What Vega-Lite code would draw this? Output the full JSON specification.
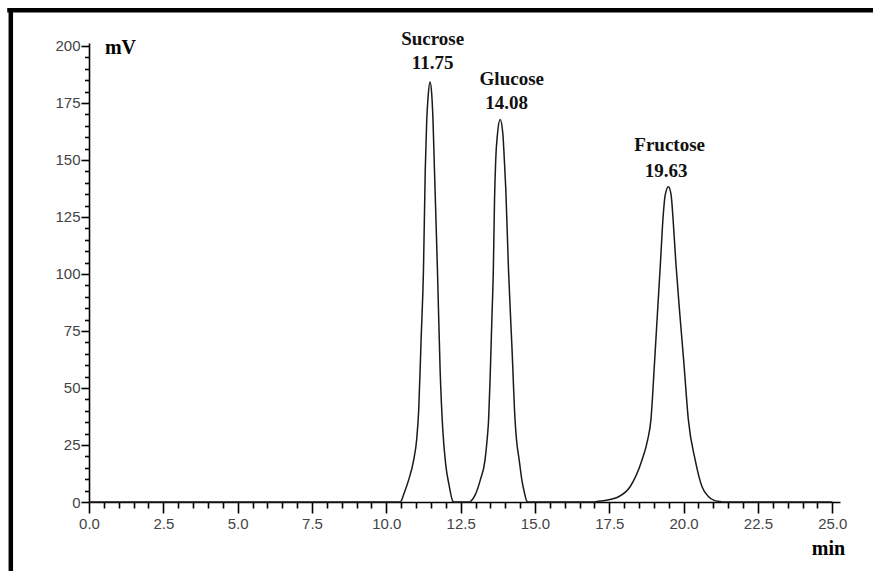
{
  "$schema": "https://vega.github.io/schema/vega-lite/v6.json",
  "width": 751,
  "height": 459,
  "autosize": "none",
  "padding": {"left": 89, "top": 43, "right": 33, "bottom": 69},
  "background": "white",
  "config": {"view": {"stroke": null}},
  "datasets": {
    "trace": [
      {"t": 0, "mv": 0}, {"t": 10.4, "mv": 0},
      {"t": 10.49, "mv": 0.3}, {"t": 10.6, "mv": 3.9}, {"t": 10.75, "mv": 9.6}, {"t": 10.92, "mv": 18.4},
      {"t": 11.02, "mv": 27.2}, {"t": 11.09, "mv": 40.4}, {"t": 11.17, "mv": 71.1},
      {"t": 11.25, "mv": 101.8}, {"t": 11.31, "mv": 145.6}, {"t": 11.36, "mv": 167.5}, {"t": 11.41, "mv": 178.5},
      {"t": 11.47, "mv": 184.2}, {"t": 11.53, "mv": 178.5}, {"t": 11.57, "mv": 167.5}, {"t": 11.62, "mv": 145.6},
      {"t": 11.72, "mv": 101.8}, {"t": 11.81, "mv": 57.9}, {"t": 11.9, "mv": 31.6}, {"t": 12.0, "mv": 16.2},
      {"t": 12.11, "mv": 7.5}, {"t": 12.24, "mv": 0.3}, {"t": 12.3, "mv": 0}, {"t": 12.8, "mv": 0},
      {"t": 12.84, "mv": 0.3}, {"t": 12.99, "mv": 3.1}, {"t": 13.16, "mv": 9.6}, {"t": 13.32, "mv": 18.4},
      {"t": 13.39, "mv": 27.2}, {"t": 13.44, "mv": 36}, {"t": 13.49, "mv": 53.5}, {"t": 13.55, "mv": 79.8}, {"t": 13.6, "mv": 101.8},
      {"t": 13.64, "mv": 132.5}, {"t": 13.68, "mv": 150}, {"t": 13.74, "mv": 161.5}, {"t": 13.83, "mv": 167.8},
      {"t": 13.92, "mv": 161.5}, {"t": 13.97, "mv": 150}, {"t": 14.02, "mv": 136.8}, {"t": 14.11, "mv": 101.8},
      {"t": 14.23, "mv": 66.7}, {"t": 14.33, "mv": 36}, {"t": 14.38, "mv": 27.2}, {"t": 14.47, "mv": 18.4},
      {"t": 14.56, "mv": 9.6}, {"t": 14.64, "mv": 4.4}, {"t": 14.73, "mv": 0.3}, {"t": 14.8, "mv": 0}, {"t": 17.0, "mv": 0},
      {"t": 17.08, "mv": 0.2}, {"t": 17.36, "mv": 0.7}, {"t": 17.81, "mv": 2.3}, {"t": 18.2, "mv": 6.7},
      {"t": 18.6, "mv": 18.4}, {"t": 18.79, "mv": 27.2}, {"t": 18.9, "mv": 36}, {"t": 19.02, "mv": 60.8},
      {"t": 19.12, "mv": 82.8}, {"t": 19.22, "mv": 104.7}, {"t": 19.31, "mv": 125.1}, {"t": 19.38, "mv": 134.6},
      {"t": 19.49, "mv": 138.3}, {"t": 19.58, "mv": 134.6}, {"t": 19.64, "mv": 125.1}, {"t": 19.74, "mv": 104.7},
      {"t": 19.87, "mv": 82.8}, {"t": 20.01, "mv": 60.8}, {"t": 20.16, "mv": 36}, {"t": 20.39, "mv": 18.4},
      {"t": 20.62, "mv": 6.7}, {"t": 20.84, "mv": 2.3}, {"t": 21.03, "mv": 0.7}, {"t": 21.23, "mv": 0.2},
      {"t": 21.3, "mv": 0}, {"t": 25.0, "mv": 0}
    ],
    "labels": [
      {"label": "Sucrose", "t": 11.56, "mv": 202.9},
      {"label": "11.75", "t": 11.56, "mv": 192.4},
      {"label": "Glucose", "t": 14.22, "mv": 185.4},
      {"label": "14.08", "t": 14.05, "mv": 175.1},
      {"label": "Fructose", "t": 19.53, "mv": 156.6},
      {"label": "19.63", "t": 19.41, "mv": 145.3}
    ]
  },
  "resolve": {"axis": {"x": "independent", "y": "independent"}},
  "layer": [
    {
      "data": {"name": "trace"},
      "mark": {"type": "line", "color": "#1a1a1a", "strokeWidth": 1.5, "interpolate": "monotone"},
      "encoding": {
        "x": {
          "field": "t", "type": "quantitative",
          "scale": {"domain": [0, 25.26], "nice": false, "zero": false},
          "axis": {
            "orient": "bottom",
            "values": [0, 2.5, 5, 7.5, 10, 12.5, 15, 17.5, 20, 22.5, 25],
            "format": ".1f", "grid": false,
            "domainColor": "#000", "domainWidth": 1.6,
            "tickColor": "#000", "tickWidth": 1.6, "tickSize": 11,
            "labelFont": "Liberation Sans", "labelFontSize": 15, "labelColor": "#444", "labelPadding": 3,
            "labelFlush": false, "labelOverlap": false,
            "title": "min", "titleFont": "Liberation Serif", "titleFontWeight": "bold", "titleFontSize": 20,
            "titleColor": "#000", "titleX": 739, "titleY": 46, "titleAlign": "center", "titleBaseline": "middle"
          }
        },
        "y": {
          "field": "mv", "type": "quantitative",
          "scale": {"domain": [0, 201.3], "nice": false, "zero": false},
          "axis": {
            "orient": "left",
            "values": [0, 25, 50, 75, 100, 125, 150, 175, 200],
            "grid": false,
            "domainColor": "#000", "domainWidth": 1.6,
            "tickColor": "#000", "tickWidth": 1.6, "tickSize": 8,
            "labelFont": "Liberation Sans", "labelFontSize": 15, "labelColor": "#444", "labelPadding": 1,
            "labelFlush": false, "labelOverlap": false,
            "title": "mV", "titleFont": "Liberation Serif", "titleFontWeight": "bold", "titleFontSize": 20,
            "titleColor": "#000", "titleAngle": 0, "titleX": 31, "titleY": 4, "titleAlign": "center", "titleBaseline": "middle"
          }
        }
      }
    },
    {
      "data": {"name": "labels"},
      "mark": {"type": "text", "font": "Liberation Serif", "fontWeight": "bold", "fontSize": 19, "color": "#111", "align": "center", "baseline": "middle"},
      "encoding": {
        "x": {
          "field": "t", "type": "quantitative",
          "axis": {
            "orient": "bottom",
            "values": [0.5, 1, 1.5, 2, 3, 3.5, 4, 4.5, 5.5, 6, 6.5, 7, 8, 8.5, 9, 9.5, 10.5, 11, 11.5, 12, 13, 13.5, 14, 14.5, 15.5, 16, 16.5, 17, 18, 18.5, 19, 19.5, 20.5, 21, 21.5, 22, 23, 23.5, 24, 24.5],
            "labels": false, "grid": false, "domain": false,
            "tickColor": "#000", "tickWidth": 1.6, "tickSize": 6, "title": null
          }
        },
        "y": {
          "field": "mv", "type": "quantitative",
          "axis": {
            "orient": "left",
            "values": [5, 10, 15, 20, 30, 35, 40, 45, 55, 60, 65, 70, 80, 85, 90, 95, 105, 110, 115, 120, 130, 135, 140, 145, 155, 160, 165, 170, 180, 185, 190, 195],
            "labels": false, "grid": false, "domain": false,
            "tickColor": "#000", "tickWidth": 1.6, "tickSize": 4.5, "title": null
          }
        },
        "text": {"field": "label", "type": "nominal"}
      }
    },
    {
      "data": {"values": [{}]},
      "mark": {"type": "rule", "color": "#000", "strokeWidth": 4.5},
      "encoding": {
        "x": {"datum": -2.75, "type": "quantitative", "axis": null},
        "x2": {"datum": 26.5},
        "y": {"datum": 215.7, "type": "quantitative", "axis": null}
      }
    },
    {
      "data": {"values": [{}]},
      "mark": {"type": "rule", "color": "#000", "strokeWidth": 4.5},
      "encoding": {
        "x": {"datum": -2.63, "type": "quantitative", "axis": null},
        "y": {"datum": 216.6, "type": "quantitative", "axis": null},
        "y2": {"datum": -32}
      }
    }
  ]
}
